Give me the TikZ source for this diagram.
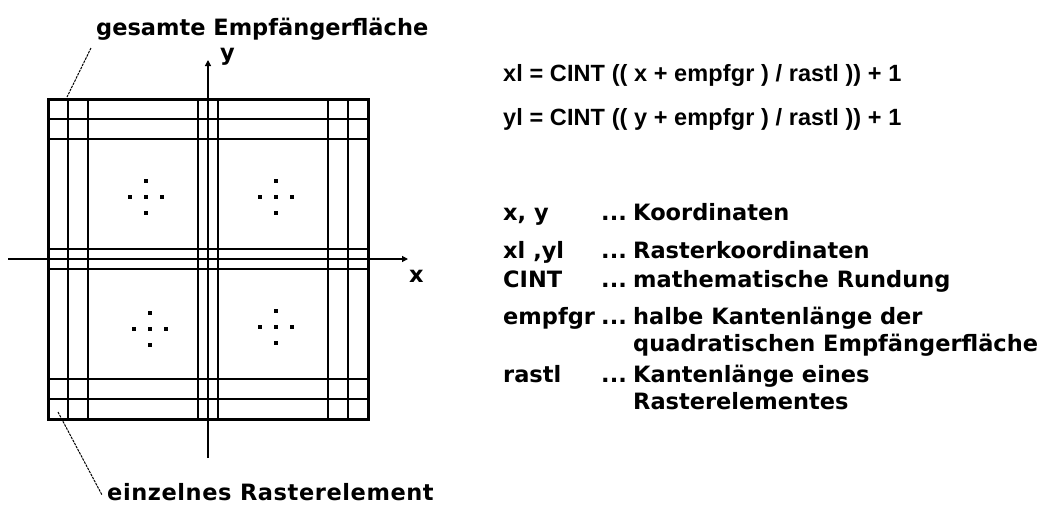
\documentclass[tikz,border=0pt]{standalone}
\usepackage{fontspec}
\setmainfont{Liberation Sans}
\newfontfamily\labfont{DejaVu Sans}
\newfontfamily\labwidefont[LetterSpace=2.6]{DejaVu Sans}
\newfontfamily\formfont[LetterSpace=0.5]{Liberation Sans}
\usetikzlibrary{arrows.meta}
\begin{document}
\begin{tikzpicture}[x=1pt,y=-1pt,
  txt/.style={font=\labfont\bfseries\fontsize{22.5}{26}\selectfont, inner sep=0pt, anchor=base west},
  widetxt/.style={txt, font=\labwidefont\bfseries\fontsize{22.5}{26}\selectfont},
  ftxt/.style={font=\formfont\bfseries\fontsize{23.5}{27}\selectfont, inner sep=0pt, anchor=base west},
  frame/.style={line width=3pt},
  gridline/.style={line width=1.2pt},
  axis/.style={line width=1.2pt,-{Triangle[length=6pt,width=6pt]}},
  leader/.style={line width=1pt,dash pattern=on 2.5pt off 1pt},
  dot/.style={fill=black,minimum size=3.2pt,inner sep=0pt,draw=none,rectangle}]
\useasboundingbox (0,0) rectangle (1045,507);
% grid
\foreach \v in {68,88,198,218,328,348} \draw[gridline] (\v,99) -- (\v,419);
\foreach \h in {119,139,249,269,379,399} \draw[gridline] (48,\h) -- (368,\h);
\draw[frame] (48,99) rectangle (368,419);
% axes
\coordinate (xs) at (8,259);
\coordinate (xe) at (408,259);
\coordinate (ys) at (208,458);
\coordinate (ye) at (208,60);
\draw[axis] (xs) -- (xe);
\draw[axis] (ys) -- (ye);
\node[txt] (xlab) at (409,282) {x};
\node[txt] (ylab) at (220,60) {y};
% dots
\foreach \cx/\cy in {146/197,276/197,150/329,276/327} {
  \node[dot] at (\cx,\cy-16) {};
  \node[dot] at (\cx-16,\cy) {};
  \node[dot] at (\cx,\cy) {};
  \node[dot] at (\cx+16,\cy) {};
  \node[dot] at (\cx,\cy+16) {};
}
% labels with leaders
\node[txt] (ges) at (96,35) {gesamte Empfängerfläche};
\coordinate (gesend) at (67,97);
\coordinate (gesstart) at (91,48);
\draw[leader] (gesstart) -- (gesend);
\node[widetxt] (ein) at (107,500) {einzelnes Rasterelement};
\coordinate (einstart) at (58,412);
\coordinate (einend) at (102,495);
\draw[leader] (einstart) -- (einend);
% formulas
\node[ftxt] (f1) at (503,81) {xl = CINT (( x + empfgr ) / rastl )) + 1};
\node[ftxt] (f2) at (503,125) {yl = CINT (( y + empfgr ) / rastl )) + 1};
% legend
\node[txt] (a1) at (503,220) {x, y};
\node[txt] (b1) at (601,220) {...};
\node[txt] (c1) at (633,220) {Koordinaten};
\node[txt] (a2) at (503,258) {xl ,yl};
\node[txt] (b2) at (601,258) {...};
\node[txt] (c2) at (633,258) {Rasterkoordinaten};
\node[txt] (a3) at (503,287) {CINT};
\node[txt] (b3) at (601,287) {...};
\node[txt] (c3) at (633,287) {mathematische Rundung};
\node[txt] (a4) at (503,324) {empfgr};
\node[txt] (b4) at (601,324) {...};
\node[txt] (c4) at (633,324) {halbe Kantenlänge der};
\node[txt] (c5) at (633,351) {quadratischen Empfängerfläche};
\node[txt] (a6) at (503,382) {rastl};
\node[txt] (b6) at (601,382) {...};
\node[txt] (c6) at (633,382) {Kantenlänge eines};
\node[txt] (c7) at (633,409) {Rasterelementes};
\end{tikzpicture}
\end{document}
